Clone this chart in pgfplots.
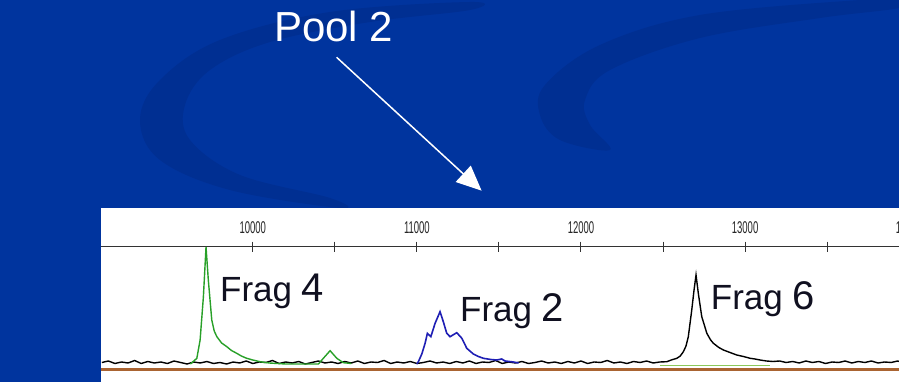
\documentclass[border=0pt]{standalone}
\usepackage{fontspec}
\setmainfont{Liberation Sans}
\usepackage{pgfplots}
\pgfplotsset{compat=1.18}
\usetikzlibrary{arrows.meta}
\definecolor{bg}{RGB}{0,52,158}
\definecolor{swoosh}{RGB}{0,47,146}
\definecolor{tracegreen}{RGB}{40,160,40}
\definecolor{lightgreen}{RGB}{140,200,90}
\definecolor{traceblue}{RGB}{30,30,180}
\definecolor{brownline}{RGB}{170,100,50}
\definecolor{txt}{RGB}{16,16,32}

\pgfplotstableread{
x y
9080 1.5
9120 3
9160 0.5
9200 2
9240 1
9280 3.5
9320 0.5
9360 2.5
9400 1
9440 2
9480 0.5
9520 3
9560 1.5
9600 0
9640 2
9680 1
9720 2.5
9760 0.5
9800 1.5
9840 0
9880 2
9920 1
9960 3
10000 0.5
10040 2
10080 1.5
10120 3.5
10160 0.5
10200 2
10240 1
10280 2.5
10320 0
10360 1.5
10400 3
10440 1
10480 2
10520 0.5
10560 2.5
10600 1
10640 3
10680 0.5
10720 2
10760 1.5
10800 3.5
10840 0.5
10880 2
10920 1
10960 2.5
11000 0.5
11040 1.5
11080 3
11120 1
11160 2
11200 0.5
11240 2.5
11280 1
11320 3
11360 0.5
11400 2
11440 1.5
11480 3.5
11520 0.5
11560 2
11600 1
11640 2.5
11680 0.5
11720 1.5
11760 3
11800 1
11840 2
11880 0.5
11920 2.5
11960 1
12000 3
12040 0.5
12080 2
12120 1.5
12160 3.5
12200 1
12240 2
12280 0.5
12320 2.5
12360 1.5
12400 3
12440 1
12480 2
12523 2.3
12550 4
12584 5.7
12605 8
12624 12.3
12640 18
12654 27.3
12675 54
12689 74
12701 89
12715 70.7
12736 47.3
12767 30.7
12790 24
12807 20.7
12840 16.5
12868 14
12900 12
12949 9
12990 7.5
13031 5.7
13060 5
13091 4
13130 3
13170 2.5
13210 3
13250 1.5
13290 2.5
13330 1
13370 3
13410 1.5
13450 2.5
13490 0.5
13530 2
13570 1.5
13610 3
13650 1
13690 2.5
13730 1.5
13770 3
13810 1
13850 2
13890 1.5
13930 3
13970 1
14010 2
14050 1.5
}\blacktrace

\pgfplotstableread{
x y
9620 0
9659 5.7
9679 24
9699 67.3
9715 117
9729 84
9750 44
9765 33
9781 27.3
9810 21
9842 17.3
9870 13.5
9902 10.7
9930 8
9963 5.7
10000 4
10044 2.3
10100 1
10200 0
10400 0
10430 5.7
10471 13.3
10512 5.7
10552 1.3
10600 0.5
}\greentrace

\pgfplotstableread{
x y
12480 -1.5
13150 -1.5
}\greenbase

\pgfplotstableread{
x y
11000 0
11009 2.3
11030 10
11050 20.7
11064 30.7
11085 27.3
11111 40.7
11141 52.3
11161 42.3
11182 30.7
11202 27.3
11243 31.3
11274 25.7
11304 15.7
11344 10
11375 7.5
11405 5.7
11450 4.5
11487 4
11517 5
11537 3
11588 2
11620 1
}\bluetrace

\pgfplotstableread{
x y
9075 -5.5
14066 -5.5
}\brown

\begin{document}
\begin{tikzpicture}[x=1pt,y=1pt]
\useasboundingbox (0,0) rectangle (899,382);
\begin{scope}
\clip (0,0) rectangle (899,382);
\fill[bg] (0,0) rectangle (899,382);
% decorative swooshes
\fill[swoosh] plot[smooth cycle, tension=0.6] coordinates {
 (470,380) (330,370) (220,342) (160,302) (140,262) (160,222) (230,192) (340,174)
 (330,184) (240,207) (190,242) (185,277) (210,312) (270,340) (370,360) (470,372)};
\fill[swoosh] plot[smooth cycle, tension=0.6] coordinates {
 (860,382) (700,367) (600,337) (545,297) (540,267) (560,242) (610,232)
 (590,257) (585,282) (610,312) (700,344) (820,364) (899,374) (899,382)};
% white panel
\fill[white] (101,0) rectangle (899,174);
% title and arrow
\node[anchor=base west, inner sep=0pt, text=white, font=\fontsize{42}{42}\selectfont] at (274,340.3) {Pool 2};
\draw[white, line width=1.5pt, -{Triangle[length=25pt,width=22pt]}] (336.6,324.7) -- (481.6,191.3);

\begin{axis}[at={(101pt,0pt)}, anchor=south west, scale only axis,
  width=819pt, height=135.3pt,
  xmin=9075, xmax=14066, ymin=-18, ymax=117.3,
  axis x line=top, axis y line=none, ytick=\empty,
  scaled x ticks=false,
  x axis line style={-, line width=1.3pt, black!80},
  xtick={10000,11000,12000,13000,14000},
  xticklabels={\scalebox{0.56}[1]{10000},\scalebox{0.56}[1]{11000},\scalebox{0.56}[1]{12000},\scalebox{0.56}[1]{13000},\scalebox{0.56}[1]{14000}},
  minor xtick={10500,11500,12500,13500},
  tick align=center, major tick length=10pt, minor tick length=10pt,
  tick style={black!80, line width=1pt},
  xticklabel style={font=\fontsize{17}{17}\selectfont, text=black!85, anchor=south, inner sep=0pt, yshift=8pt},
  clip=true]
\addplot[brownline, line width=2.2pt] table[x=x,y=y] {\brown};
\addplot[lightgreen, line width=1.6pt] table[x=x,y=y] {\greenbase};
\addplot[black, line width=1.4pt] table[x=x,y=y] {\blacktrace};
\addplot[tracegreen, line width=1.4pt] table[x=x,y=y] {\greentrace};
\addplot[traceblue, line width=1.6pt] table[x=x,y=y] {\bluetrace};
\end{axis}

\node[anchor=base west, inner sep=0pt, text=txt, font=\fontsize{35}{35}\selectfont] at (220,80.3) {Frag {\fontsize{40}{40}\selectfont 4}};
\node[anchor=base west, inner sep=0pt, text=txt, font=\fontsize{35}{35}\selectfont] at (460,60.3) {Frag {\fontsize{40}{40}\selectfont 2}};
\node[anchor=base west, inner sep=0pt, text=txt, font=\fontsize{35}{35}\selectfont] at (710.7,72) {Frag {\fontsize{40}{40}\selectfont 6}};
\end{scope}
\end{tikzpicture}
\end{document}
